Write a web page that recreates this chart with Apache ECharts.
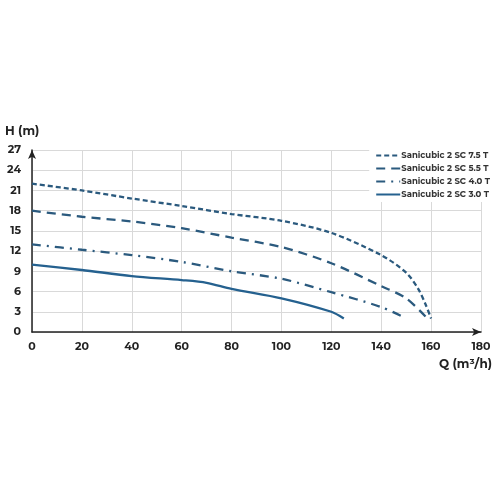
<!DOCTYPE html>
<html>
<head>
<meta charset="utf-8">
<script src="https://cdn.jsdelivr.net/npm/echarts@6/dist/echarts.min.js"></script>
<style>html,body{margin:0;padding:0;background:#fff}#c{width:500px;height:500px}</style>
</head>
<body>
<div id="c"></div>
<script>
const seriesNames = ['Sanicubic 2 SC 7.5 T', 'Sanicubic 2 SC 5.5 T', 'Sanicubic 2 SC 4.0 T', 'Sanicubic 2 SC 3.0 T'];
const q75 = [0, 20, 40, 60, 80, 100, 120, 140, 150, 155, 158, 160];
const h75 = [22, 21, 19.8, 18.7, 17.5, 16.5, 14.7, 11.4, 8.8, 6.3, 3.9, 2];
const q55 = [0, 20, 40, 60, 80, 100, 120, 140, 150, 158];
const h55 = [18, 17.1, 16.4, 15.4, 14, 12.6, 10.2, 6.8, 5, 2.2];
const q40 = [0, 20, 40, 60, 80, 100, 120, 140, 150];
const h40 = [13, 12.2, 11.4, 10.4, 9, 7.9, 5.9, 3.7, 2];
const q30 = [0, 20, 40, 60, 70, 80, 100, 120, 125];
const h30 = [10, 9.2, 8.3, 7.7, 7.3, 6.4, 5, 3, 2];
const xTicks = [0, 20, 40, 60, 80, 100, 120, 140, 160, 180];
const yTicks = [0, 3, 6, 9, 12, 15, 18, 21, 24, 27];

const pair = (xs, ys) => xs.map((x, i) => [x, ys[i]]);
const dashColor = '#2b5a7e';
const solidColor = '#25618f';
const font = 'Montserrat, "Open Sans", "DejaVu Sans", sans-serif';

const chart = echarts.init(document.getElementById('c'), null, {renderer: 'canvas'});
chart.setOption({
  animation: false,
  backgroundColor: '#fff',
  grid: {left: 32, right: 19, top: 150, bottom: 168, containLabel: false},
  legend: {
    right: 8, top: 148, orient: 'vertical', itemWidth: 24, itemHeight: 8, itemGap: 4,
    backgroundColor: '#fff', padding: [3, 2, 3, 6],
    itemStyle: {opacity: 0},
    textStyle: {fontSize: 8.5, fontWeight: 'bold', color: '#333', fontFamily: font, padding: [0, 0, 0, -4]},
    data: seriesNames
  },
  graphic: [
    {type: 'text', left: 5, top: 125, style: {text: 'H (m)', font: 'bold 12px ' + font, fill: '#222'}},
    {type: 'text', right: 8, top: 358, style: {text: 'Q (m³/h)', font: 'bold 12px ' + font, fill: '#222'}}
  ],
  xAxis: {
    type: 'value', min: 0, max: 180, interval: 20,
    axisLine: {lineStyle: {color: '#222', width: 1.5}, symbol: ['none', 'arrow'], symbolSize: [6, 9]},
    axisTick: {show: false},
    axisLabel: {color: '#222', fontSize: 11, fontWeight: 'bold', fontFamily: font, margin: 9,
      formatter: v => xTicks.includes(v) ? String(v) : ''},
    splitLine: {show: true, lineStyle: {color: '#d9d9d9', width: 1}}
  },
  yAxis: {
    type: 'value', min: 0, max: 27, interval: 3,
    axisLine: {show: true, lineStyle: {color: '#222', width: 1.5}, symbol: ['none', 'arrow'], symbolSize: [6, 9]},
    axisTick: {show: false},
    axisLabel: {color: '#222', fontSize: 11, fontWeight: 'bold', fontFamily: font, margin: 11,
      formatter: v => yTicks.includes(v) ? String(v) : ''},
    splitLine: {show: true, lineStyle: {color: '#d9d9d9', width: 1}}
  },
  series: [
    {name: seriesNames[0], type: 'line', smooth: 0.3, showSymbol: false, symbol: 'none',
      data: pair(q75, h75), color: dashColor, lineStyle: {color: dashColor, width: 2.3, type: [5, 3]}},
    {name: seriesNames[1], type: 'line', smooth: 0.3, showSymbol: false, symbol: 'none',
      data: pair(q55, h55), color: dashColor, lineStyle: {color: dashColor, width: 2.3, type: [9, 6]}},
    {name: seriesNames[2], type: 'line', smooth: 0.3, showSymbol: false, symbol: 'none',
      data: pair(q40, h40), color: dashColor, lineStyle: {color: dashColor, width: 2.3, type: [9, 6, 2, 6]}},
    {name: seriesNames[3], type: 'line', smooth: 0.3, showSymbol: false, symbol: 'none',
      data: pair(q30, h30), color: solidColor, lineStyle: {color: solidColor, width: 2.3, type: 'solid'}}
  ]
});
</script>
</body>
</html>
